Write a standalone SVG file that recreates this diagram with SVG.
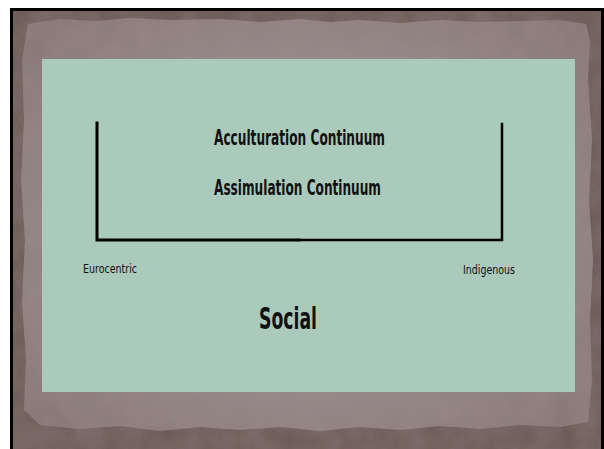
<svg xmlns="http://www.w3.org/2000/svg" width="604" height="449" viewBox="0 0 604 449">
<defs>
<filter id="grain" x="0" y="0" width="100%" height="100%">
<feTurbulence type="fractalNoise" baseFrequency="0.04" numOctaves="3" seed="4" result="n"/>
<feColorMatrix in="n" type="matrix" values="0 0 0 0 0.35  0 0 0 0 0.28  0 0 0 0 0.27  0 0 0 0.35 0" result="c"/>
<feComposite in="c" in2="SourceGraphic" operator="in" result="t"/>
<feMerge><feMergeNode in="SourceGraphic"/><feMergeNode in="t"/></feMerge>
</filter>
<radialGradient id="paper" cx="50%" cy="50%" r="65%">
<stop offset="0.6" stop-color="#968989"/>
<stop offset="1" stop-color="#887777"/>
</radialGradient>
</defs>
<style>
.ln{stroke:#000;stroke-width:3;fill:none;stroke-linecap:square}
.t{font-family:"DejaVu Sans Condensed","Liberation Sans Narrow","DejaVu Sans",sans-serif;fill:#111;font-weight:bold}
.s{font-family:"DejaVu Sans Condensed","Liberation Sans Narrow","DejaVu Sans",sans-serif;fill:#111}
</style>
<rect x="0" y="0" width="604" height="449" fill="#fff"/>
<rect x="10" y="8" width="594" height="441" fill="#000"/>
<rect x="13" y="11" width="588" height="438" fill="#6a5955" filter="url(#grain)"/>
<g id="paper-sheet">
<path d="M28,24 L60,19 L95,21 L130,18 L170,20 L220,19 L260,22 L300,19 L330,22 L360,20 L400,23 L440,20 L480,22 L520,21 L560,20 L586,24 L590,40 L588,80 L592,140 L589,200 L593,260 L590,320 L592,380 L588,422 L560,427 L520,425 L480,429 L440,426 L400,430 L360,427 L320,431 L280,427 L240,430 L200,427 L160,431 L120,426 L80,429 L40,425 L24,410 L26,360 L22,300 L25,240 L21,180 L24,120 L22,60 Z" fill="url(#paper)" filter="url(#grain)"/>
</g>
<rect id="panel" x="42" y="59" width="533" height="333" fill="#aacbbb"/>
<g id="connectors">
<path class="ln" d="M97,123 L97,240 L299,240"/>
<path d="M299,240 L502,240 L502,124" stroke="#000" stroke-width="2.5" fill="none" stroke-linecap="square"/>
</g>
<g id="node-acculturation">
<text class="t" x="214" y="145" font-size="21" textLength="171" lengthAdjust="spacingAndGlyphs">Acculturation Continuum</text>
</g>
<g id="node-assimulation">
<text class="t" x="214" y="195" font-size="21" textLength="167" lengthAdjust="spacingAndGlyphs">Assimulation Continuum</text>
</g>
<g id="node-eurocentric">
<text class="s" x="83" y="273" font-size="12" textLength="54" lengthAdjust="spacingAndGlyphs">Eurocentric</text>
</g>
<g id="node-indigenous">
<text class="s" x="463" y="274" font-size="12" textLength="52" lengthAdjust="spacingAndGlyphs">Indigenous</text>
</g>
<g id="node-social">
<text class="s" x="259" y="329" font-size="30" textLength="58" lengthAdjust="spacingAndGlyphs" font-weight="600">Social</text>
</g>
</svg>
